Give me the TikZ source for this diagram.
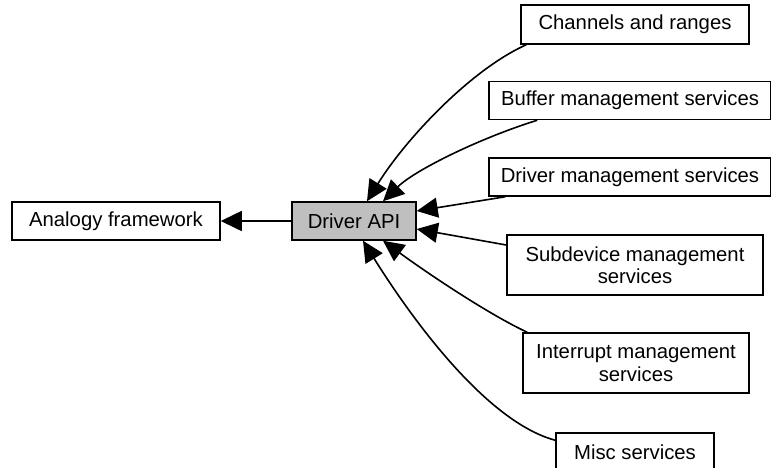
\documentclass[tikz,border=0pt]{standalone}
\usepackage{fontspec}
\setmainfont{Liberation Sans}
\usetikzlibrary{arrows.meta,calc}
\definecolor{apigray}{HTML}{BFBFBF}
\begin{document}
\begin{tikzpicture}[x=1pt,y=-1pt,
  box/.style={draw=black,line width=1.5pt,inner sep=0pt,align=center,
    font=\fontsize{20.3}{22.5}\selectfont},
  conn/.style={line width=1.6pt,-{Triangle[length=21pt,width=20pt]}}]
\useasboundingbox (0,0) rectangle (771,467);
\node[box,minimum width=208,minimum height=38] (af) at (116,221) {Analogy framework};
\node[box,fill=apigray,minimum width=124,minimum height=38] (api) at (354,221) {Driver API};
\node[box,minimum width=228,minimum height=39] (ch) at (635,24.5) {Channels and ranges};
\node[box,minimum width=282,minimum height=38] (buf) at (630,100.5) {Buffer management services};
\node[box,minimum width=282,minimum height=38] (drv) at (630,177) {Driver management services};
\node[box,minimum width=256,minimum height=60] (sub) at (635,265) {Subdevice management\\services};
\node[box,minimum width=226,minimum height=60] (irq) at (636,363) {Interrupt management\\services};
\node[box,minimum width=158,minimum height=38] (misc) at (635,452) {Misc services};

\draw[conn] (api.west) -- (af.east);
\draw[conn] ($(ch.south west)+(6,0)$) .. controls (470,70) and (405,140) .. ($(api.north)+(13,0)$);
\draw[conn] ($(buf.south west)+(49,0)$) .. controls (480,138) and (415,170) .. ($(api.north)+(29,0)$);
\draw[conn] ($(drv.south west)+(17,0)$) -- ($(api.east)+(0,-10)$);
\draw[conn] ($(sub.west)+(0,-20)$) -- ($(api.east)+(0,8)$);
\draw[conn] ($(irq.north west)+(5,0)$) .. controls (490,315) and (430,275) .. ($(api.south)+(29,0)$);
\draw[conn] ($(misc.north west)+(0,8)$) .. controls (480,420) and (400,300) .. ($(api.south)+(9,0)$);
\end{tikzpicture}
\end{document}
